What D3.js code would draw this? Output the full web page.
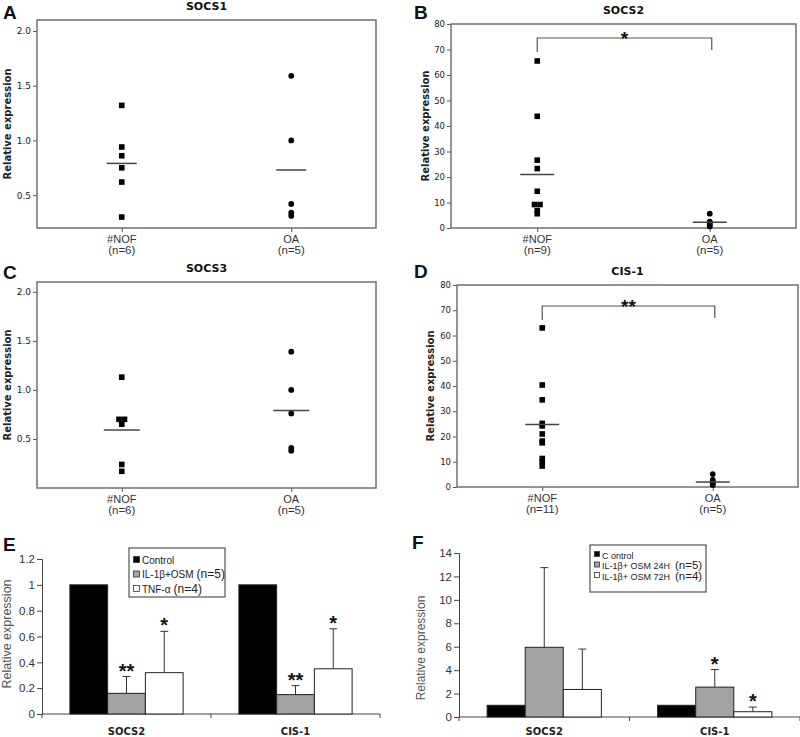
<!DOCTYPE html>
<html><head><meta charset="utf-8">
<script src="https://cdn.jsdelivr.net/npm/d3@7"></script>
<style>body{margin:0;background:#fff} svg{display:block}</style>
</head><body><svg id="c" width="800" height="737"></svg>
<script>
// ---------- data ----------
const scatterGroups = ["#NOF", "OA"];
const socs1NOF = [1.32, 0.94, 0.86, 0.75, 0.62, 0.30];
const socs1OA = [1.59, 1.00, 0.42, 0.34, 0.31];
const socs1Means = [0.79, 0.73];
const socs1N = ["(n=6)", "(n=5)"];

const socs2NOF = [65.5, 43.8, 26.6, 23.3, 14.4, 9.2, 9.2, 6.8, 5.6];
const socs2OA = [5.6, 2.5, 1.8, 1.2, 0.6];
const socs2Means = [21.0, 2.3];
const socs2N = ["(n=9)", "(n=5)"];

const socs3NOF = [1.13, 0.70, 0.70, 0.65, 0.24, 0.17];
const socs3OA = [1.39, 1.00, 0.76, 0.41, 0.38];
const socs3Means = [0.59, 0.79];
const socs3N = ["(n=6)", "(n=5)"];

const cis1NOF = [63.0, 40.4, 34.5, 25.2, 24.2, 21.0, 18.2, 17.5, 11.3, 10.0, 8.3];
const cis1OA = [5.1, 2.8, 2.0, 1.4, 0.8];
const cis1Means = [24.8, 2.0];
const cis1N = ["(n=11)", "(n=5)"];

const smallTicks = [0.5, 1.0, 1.5, 2.0];
const bigTicks = [0, 10, 20, 30, 40, 50, 60, 70, 80];

const barCategories = ["SOCS2", "CIS-1"];
const eSeries = ["Control", "IL-1β+OSM", "TNF-α"];
const eSeriesN = ["", "(n=5)", "(n=4)"];
const eControl = [1, 1];
const eIL = [0.16, 0.15];
const eTNF = [0.32, 0.35];
const eILsd = [0.13, 0.07];
const eTNFsd = [0.32, 0.31];
const eILsig = ["**", "**"];
const eTNFsig = ["*", "*"];
const eTicks = [0, 0.2, 0.4, 0.6, 0.8, 1, 1.2];

const fSeries = ["C ontrol", "IL-1β+ OSM 24H", "IL-1β+ OSM 72H"];
const fSeriesN = ["", "(n=5)", "(n=4)"];
const fControl = [1, 1];
const fIL24 = [5.95, 2.55];
const fIL72 = [2.35, 0.45];
const fIL24sd = [6.8, 1.5];
const fIL72sd = [3.45, 0.40];
const fIL24sig = ["", "*"];
const fIL72sig = ["", "*"];
const fTicks = [0, 2, 4, 6, 8, 10, 12, 14];

// ---------- drawing ----------
const svg = d3.select("#c");
svg.append("rect").attr("width", 800).attr("height", 737).attr("fill", "#fff");
const SANS = "'DejaVu Sans', Verdana, sans-serif";
const ARIAL = "'Liberation Sans', Arial, sans-serif";

function letter(t, x, y) {
  svg.append("text").attr("x", x).attr("y", y).text(t)
    .attr("font-family", ARIAL).attr("font-weight", "bold").attr("font-size", 19).attr("fill", "#111");
}

function scatter(c) {
  const g = svg.append("g");
  const y = d3.scaleLinear().domain(c.domain).range([c.y1, c.y0]);
  const x = d3.scalePoint().domain(scatterGroups).range([c.x0, c.x1]).padding(0.5);
  g.append("text").attr("x", (c.x0 + c.x1) / 2).attr("y", c.y0 - 10).attr("text-anchor", "middle")
    .attr("font-family", SANS).attr("font-weight", "bold").attr("font-size", 11).attr("fill", "#111").text(c.title);
  const ya = g.append("g").attr("transform", `translate(${c.x0},0)`)
    .call(d3.axisLeft(y).tickValues(c.ticks).tickSize(4).tickPadding(2).tickFormat(c.fmt));
  ya.select(".domain").remove();
  ya.selectAll("line").attr("stroke", "#555");
  ya.selectAll("text").attr("font-family", SANS).attr("font-size", c.tickSize).attr("fill", "#222");
  const xa = g.append("g").attr("transform", `translate(0,${c.y1})`)
    .call(d3.axisBottom(x).tickSize(4).tickFormat(""));
  xa.select(".domain").remove();
  xa.selectAll("line").attr("stroke", "#555");
  scatterGroups.forEach((grp, i) => {
    g.append("text").attr("x", x(grp)).attr("y", c.y1 + 15).attr("text-anchor", "middle")
      .attr("font-family", ARIAL).attr("font-size", 11).attr("fill", "#333").text(grp);
    g.append("text").attr("x", x(grp)).attr("y", c.y1 + 26).attr("text-anchor", "middle")
      .attr("font-family", ARIAL).attr("font-size", 11.5).attr("fill", "#333").text(c.ns[i]);
  });
  g.append("rect").attr("x", c.x0).attr("y", c.y0).attr("width", c.x1 - c.x0).attr("height", c.y1 - c.y0)
    .attr("fill", "none").attr("stroke", "#707070").attr("stroke-width", 1.5);
  g.append("text").attr("transform", `translate(${c.ytx},${(c.y0 + c.y1) / 2}) rotate(-90)`)
    .attr("text-anchor", "middle").attr("font-family", SANS).attr("font-weight", "bold")
    .attr("font-size", 10).attr("fill", "#222").text("Relative expression");
  function offsets(vals) {
    const cnt = {}, seen = {};
    vals.forEach(v => cnt[v] = (cnt[v] || 0) + 1);
    return vals.map(v => { seen[v] = (seen[v] || 0); const k = seen[v]++; return (k - (cnt[v] - 1) / 2) * 5.5; });
  }
  const offA = offsets(c.a);
  g.selectAll(null).data(c.a).join("rect")
    .attr("x", (d, i) => x(scatterGroups[0]) + offA[i] - 2.8).attr("y", d => y(d) - 2.8)
    .attr("width", 5.6).attr("height", 5.6).attr("fill", "#000");
  const offB = offsets(c.b);
  g.selectAll(null).data(c.b).join("circle")
    .attr("cx", (d, i) => x(scatterGroups[1]) + offB[i]).attr("cy", d => y(d)).attr("r", 2.9).attr("fill", "#000");
  g.selectAll(null).data(c.means).join("line")
    .attr("x1", (d, i) => x(scatterGroups[i]) - c.mw).attr("x2", (d, i) => x(scatterGroups[i]) + c.mw)
    .attr("y1", d => y(d)).attr("y2", d => y(d)).attr("stroke", "#444").attr("stroke-width", 1.5);
  if (c.sig) {
    const xa0 = x(scatterGroups[0]), xb0 = x(scatterGroups[1]) + 2;
    g.append("path").attr("d", `M${xa0},${c.by + 14}V${c.by}H${xb0}V${c.by + 12}`)
      .attr("fill", "none").attr("stroke", "#555").attr("stroke-width", 1.2);
    g.append("text").attr("x", (xa0 + xb0) / 2).attr("y", c.by + 7).attr("text-anchor", "middle")
      .attr("font-family", ARIAL).attr("font-weight", "bold").attr("font-size", 19).attr("fill", "#111").text(c.sig);
  }
}

const f1 = d3.format(".1f");
scatter({x0: 37, x1: 376, y0: 20, y1: 228, domain: [0.2, 2.1], ticks: smallTicks, fmt: f1, tickSize: 9,
  title: "SOCS1", a: socs1NOF, b: socs1OA, means: socs1Means, ns: socs1N, ytx: 11, mw: 15});
scatter({x0: 451, x1: 796, y0: 24, y1: 228, domain: [0, 80], ticks: bigTicks, fmt: d3.format("d"), tickSize: 8.5,
  title: "SOCS2", a: socs2NOF, b: socs2OA, means: socs2Means, ns: socs2N, ytx: 429, mw: 17, sig: "*", by: 38});
scatter({x0: 37, x1: 376, y0: 282, y1: 488, domain: [0, 2.1], ticks: smallTicks, fmt: f1, tickSize: 9,
  title: "SOCS3", a: socs3NOF, b: socs3OA, means: socs3Means, ns: socs3N, ytx: 11, mw: 18});
scatter({x0: 457, x1: 798, y0: 285, y1: 487, domain: [0, 80], ticks: bigTicks, fmt: d3.format("d"), tickSize: 8.5,
  title: "CIS-1", a: cis1NOF, b: cis1OA, means: cis1Means, ns: cis1N, ytx: 434, mw: 17, sig: "**", by: 306});

letter("A", 3, 19); letter("B", 414, 19); letter("C", 3, 279); letter("D", 414, 278);
letter("E", 3, 551); letter("F", 412, 549);

function bars(c) {
  const g = svg.append("g");
  const y = d3.scaleLinear().domain(c.domain).range([c.y1, c.y0]);
  const x0 = d3.scaleBand().domain(barCategories).range([c.x0, c.x1]).paddingInner(0.33).paddingOuter(0.165);
  const x1 = d3.scaleBand().domain([0, 1, 2]).range([0, x0.bandwidth()]);
  const fills = ["#000", "#a3a3a3", "#fff"];
  const ya = g.append("g").attr("transform", `translate(${c.x0},0)`)
    .call(d3.axisLeft(y).tickValues(c.ticks).tickSize(5).tickPadding(2).tickFormat(d => String(+d.toFixed(1))));
  ya.select(".domain").attr("stroke", "#444");
  ya.selectAll("line").attr("stroke", "#444");
  ya.selectAll("text").attr("font-family", ARIAL).attr("font-size", c.tick).attr("fill", "#333");
  const xl = g.append("g").attr("transform", `translate(0,${c.y1})`);
  xl.append("line").attr("x1", c.x0).attr("x2", c.x1).attr("stroke", "#444");
  const bounds = [c.x0, (x0(barCategories[0]) + x0.bandwidth() + x0(barCategories[1])) / 2, c.x1];
  xl.selectAll(null).data(bounds).join("line").attr("x1", d => d).attr("x2", d => d)
    .attr("y1", 0).attr("y2", 4).attr("stroke", "#444");
  barCategories.forEach(cat => {
    g.append("text").attr("x", x0(cat) + x0.bandwidth() / 2).attr("y", c.catY).attr("text-anchor", "middle")
      .attr("font-family", SANS).attr("font-weight", "bold").attr("font-size", 10).attr("fill", "#222").text(cat);
  });
  c.series.forEach((vals, s) => {
    vals.forEach((v, i) => {
      const cat = barCategories[i];
      const bx = x0(cat) + x1(s), bw = x1.bandwidth();
      const sd = c.sd[s] ? c.sd[s][i] : 0;
      if (sd) {
        const cx = bx + bw / 2;
        g.append("line").attr("x1", cx).attr("x2", cx).attr("y1", y(v)).attr("y2", y(v + sd)).attr("stroke", "#333");
        g.append("line").attr("x1", cx - 4).attr("x2", cx + 4).attr("y1", y(v + sd)).attr("y2", y(v + sd)).attr("stroke", "#333");
      }
      g.append("rect").attr("x", bx).attr("y", y(v)).attr("width", bw).attr("height", y(0) - y(v))
        .attr("fill", fills[s]).attr("stroke", "#222").attr("stroke-width", 1);
      const sig = c.sig[s] ? c.sig[s][i] : "";
      if (sig) {
        g.append("text").attr("x", bx + bw / 2).attr("y", y(v + sd) + 1).attr("text-anchor", "middle")
          .attr("font-family", ARIAL).attr("font-weight", "bold").attr("font-size", 20).attr("fill", "#111").text(sig);
      }
    });
  });
  g.append("text").attr("transform", `translate(${c.ytx},${c.yty}) rotate(-90)`)
    .attr("text-anchor", "middle").attr("font-family", ARIAL).attr("font-size", c.ytSize).attr("fill", "#555").text("Relative expression");
  const L = c.legend;
  g.append("rect").attr("x", L.x).attr("y", L.y).attr("width", L.w).attr("height", L.h)
    .attr("fill", "#fff").attr("stroke", "#333");
  c.names.forEach((nm, s) => {
    const ly = L.y + L.first + s * L.step;
    g.append("rect").attr("x", L.x + 4.5).attr("y", ly - 3.5).attr("width", L.sw).attr("height", L.sw)
      .attr("fill", fills[s]).attr("stroke", "#333").attr("stroke-width", 0.8);
    const t = g.append("text").attr("x", L.x + 5 + L.sw + 2).attr("y", ly + 3.5)
      .attr("font-family", ARIAL).attr("font-size", L.fs).attr("fill", "#222");
    t.append("tspan").text(nm);
    if (c.ns[s]) t.append("tspan").attr("font-size", L.fs2).attr("dx", L.gap).text(c.ns[s]);
  });
}

bars({x0: 42, x1: 380, y0: 559, y1: 714, domain: [0, 1.2], ticks: eTicks, tick: 11.5, catY: 735,
  series: [eControl, eIL, eTNF], sd: [null, eILsd, eTNFsd], sig: [null, eILsig, eTNFsig],
  names: eSeries, ns: eSeriesN, ytx: 11, yty: 634, ytSize: 12.5,
  legend: {x: 129, y: 548, w: 96, h: 49, first: 12, step: 14.5, sw: 6, fs: 10, fs2: 12, gap: 3}});
bars({x0: 459, x1: 800, y0: 553, y1: 717, domain: [0, 14], ticks: fTicks, tick: 11.5, catY: 735,
  series: [fControl, fIL24, fIL72], sd: [null, fIL24sd, fIL72sd], sig: [null, fIL24sig, fIL72sig],
  names: fSeries, ns: fSeriesN, ytx: 425, yty: 648, ytSize: 12,
  legend: {x: 590, y: 545, w: 116, h: 47, first: 10, step: 10.5, sw: 5, fs: 9, fs2: 11.5, gap: 5}});
</script></body></html>
